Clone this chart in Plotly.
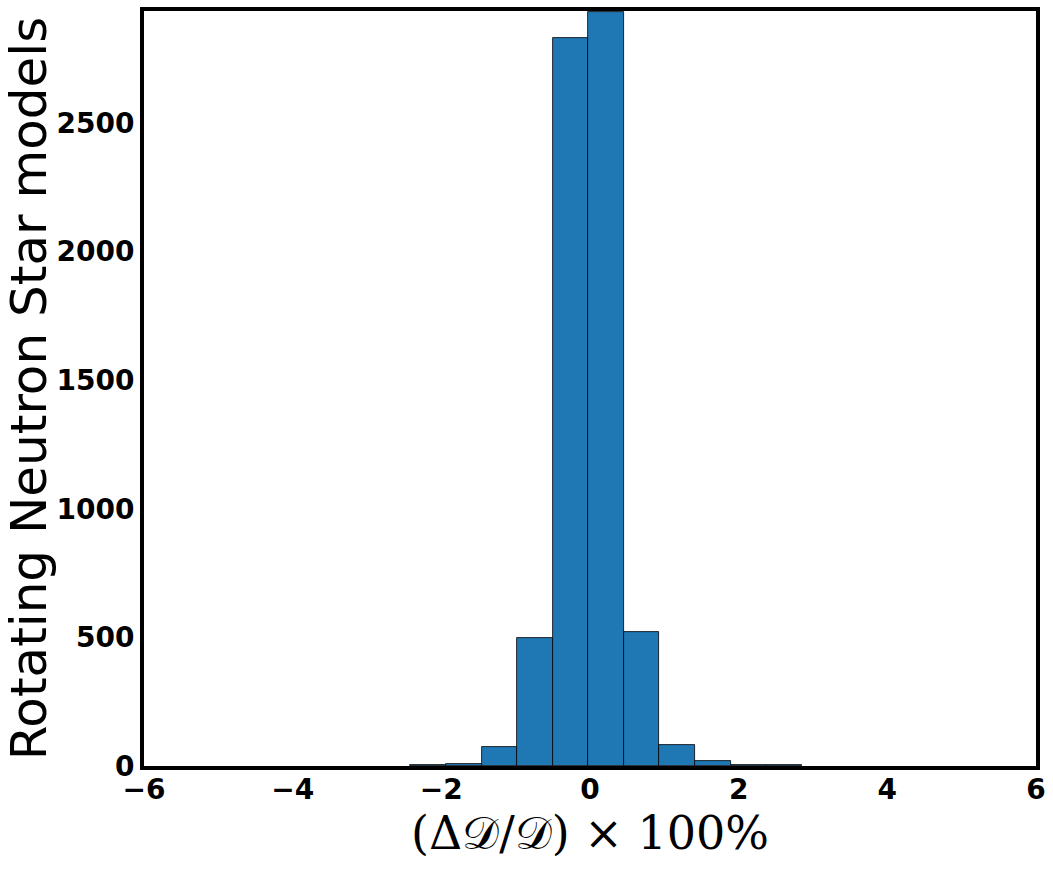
import plotly.graph_objects as go

# histogram of (dD/D)*100%, bins
bin_start = -2.416
bin_width = 0.4785
counts = [5, 8, 72, 498, 2832, 2930, 522, 80, 18, 4, 3]

centers = [bin_start + bin_width * (i + 0.5) for i in range(len(counts))]

x_ticks = [-6, -4, -2, 0, 2, 4, 6]
y_ticks = [0, 500, 1000, 1500, 2000, 2500]

fig = go.Figure()
fig.add_trace(go.Bar(
    x=centers, y=counts, width=bin_width,
    marker=dict(color="#1f77b4", line=dict(color="black", width=0.8)),
))

fig.update_layout(
    width=1053, height=870,
    margin=dict(l=144, r=16, t=7, b=104),
    plot_bgcolor="white", paper_bgcolor="white",
    showlegend=False, bargap=0,
    font=dict(family="DejaVu Sans", color="black"),
)
fig.update_xaxes(
    range=[-6, 6], tickvals=x_ticks, ticktext=["\u2212" + str(-v) if v < 0 else str(v) for v in x_ticks],
    showgrid=False, zeroline=False,
    showline=True, mirror=True, linewidth=4, linecolor="black",
    ticks="", tickfont=dict(size=28, weight="bold"), ticklabelstandoff=-5,
    title=dict(text="(Δ𝒟/𝒟) × 100%", font=dict(family="DejaVu Serif", size=46), standoff=3),
)
fig.update_yaxes(
    range=[0, 2935], tickvals=y_ticks,
    showgrid=False, zeroline=False,
    showline=True, mirror=True, linewidth=4, linecolor="black",
    ticks="", tickfont=dict(size=28, weight="bold"),
    title=dict(text="Rotating Neutron Star models", font=dict(size=50), standoff=8),
)

# drop the default page margin so the figure sits at the window corner
fig.write_html("out.html", config={"displayModeBar": False},
               post_script="document.body.style.margin='0';")
